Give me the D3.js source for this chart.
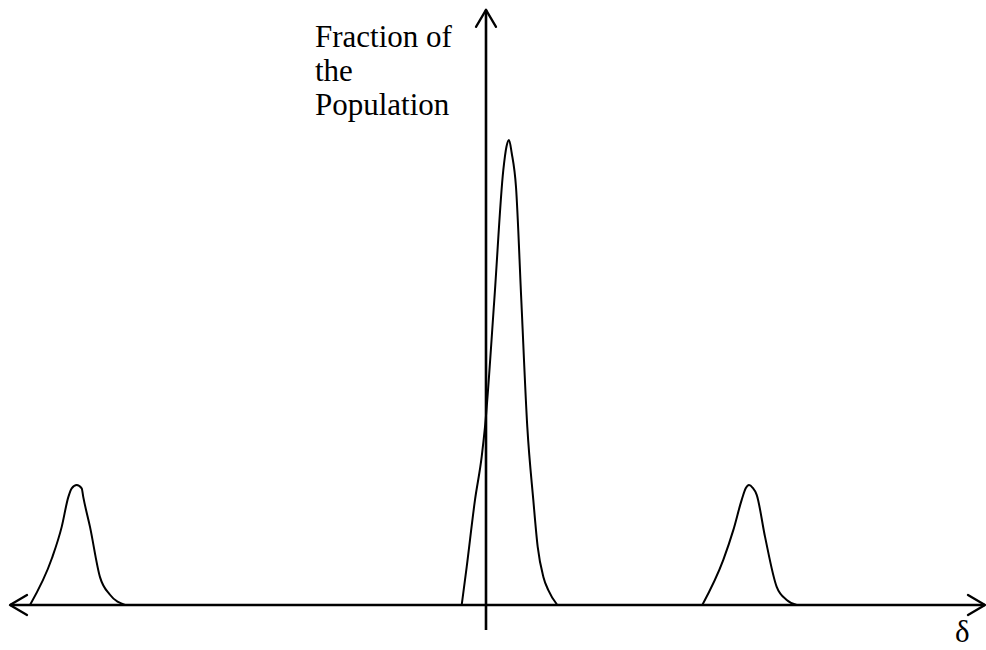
<!DOCTYPE html>
<html>
<head>
<meta charset="utf-8">
<script src="https://cdn.jsdelivr.net/npm/d3@7"></script>
<style>
  body { margin: 0; background: #fff; }
  svg { display: block; }
</style>
</head>
<body>
<script>
// Distribution of delta -- three peaks, central one tallest
// delta values (x) and fraction of population (y, % of tallest peak)
var leftPeakDelta = [-4.56, -4.34, -4.243, -4.177, -4.143, -4.093, -4.043, -4.027, -3.96, -3.86, -3.76, -3.61];
var leftPeakFrac  = [0, 10.1, 16.8, 23.2, 25.1, 25.8, 25.1, 23.2, 16.8, 6.0, 2.2, 0];

var midPeakDelta = [-0.243, -0.193, -0.11, -0.043, -0.01, 0.083, 0.173, 0.205, 0.23, 0.257, 0.3, 0.353, 0.413, 0.473, 0.517, 0.573, 0.623, 0.713];
var midPeakFrac  = [0, 8.2, 22.6, 31.9, 38.3, 65.6, 93.5, 98.6, 100, 97.2, 89.9, 65.6, 38.3, 22.6, 12.5, 6.1, 3.2, 0];

var rightPeakDelta = [2.163, 2.373, 2.473, 2.557, 2.597, 2.63, 2.667, 2.707, 2.79, 2.907, 3.007, 3.107];
var rightPeakFrac  = [0, 9.7, 16.1, 22.6, 25.1, 25.8, 25.2, 23.7, 14.7, 3.9, 1.1, 0];

// axis extents (data units)
var deltaExtent = [-4.76, 4.99];
var fracExtent = [-5.4, 128];

var yLabelLines = ["Fraction of", "the", "Population"];
var xLabel = "\u03b4";

(function(){
  var width = 986,
      height = 650;

  var svg = d3.select("body")
    .append("svg")
    .attr("width", width)
    .attr("height", height);

  var x = d3.scaleLinear()
    .domain([-5, 5])
    .range([-14, 986]);
  var y = d3.scaleLinear()
    .domain([0, 100])
    .range([605, 140]);

  // open arrowhead
  var defs = svg.append("defs");
  defs.append("marker")
    .attr("id", "arrow")
    .attr("markerUnits", "userSpaceOnUse")
    .attr("viewBox", "0 -11 17 22")
    .attr("markerWidth", 17)
    .attr("markerHeight", 22)
    .attr("refX", 17)
    .attr("refY", 0)
    .attr("orient", "auto-start-reverse")
    .style("overflow", "visible")
    .append("path")
    .attr("d", "M0,-10L17,0L0,10")
    .attr("fill", "none")
    .attr("stroke", "#000")
    .attr("stroke-width", 2.3)
    .attr("stroke-linejoin", "round")
    .attr("stroke-linecap", "round");

  // x axis, arrows both ends
  svg.append("line")
    .attr("x1", x(deltaExtent[0]))
    .attr("x2", x(deltaExtent[1]))
    .attr("y1", y(0))
    .attr("y2", y(0))
    .attr("stroke", "#000")
    .attr("stroke-width", 2.6)
    .attr("marker-start", "url(#arrow)")
    .attr("marker-end", "url(#arrow)");

  // y axis, arrow on top only
  svg.append("line")
    .attr("x1", x(0))
    .attr("x2", x(0))
    .attr("y1", y(fracExtent[0]))
    .attr("y2", y(fracExtent[1]))
    .attr("stroke", "#000")
    .attr("stroke-width", 2.6)
    .attr("marker-end", "url(#arrow)");

  var line = d3.line()
    .x(function(d){ return x(d[0]); })
    .y(function(d){ return y(d[1]); })
    .curve(d3.curveMonotoneX);

  var peaks = [
    d3.zip(leftPeakDelta, leftPeakFrac),
    d3.zip(midPeakDelta, midPeakFrac),
    d3.zip(rightPeakDelta, rightPeakFrac)
  ];

  svg.selectAll(".peak")
    .data(peaks)
    .enter()
    .append("path")
    .attr("class", "peak")
    .attr("d", line)
    .attr("fill", "none")
    .attr("stroke", "#000")
    .attr("stroke-width", 2);

  // labels
  var label = svg.append("text")
    .attr("x", 315)
    .attr("y", 46.5)
    .style("font-family", "'Liberation Serif', 'Times New Roman', serif")
    .style("font-size", "31px");
  label.selectAll("tspan")
    .data(yLabelLines)
    .enter()
    .append("tspan")
    .attr("x", 315)
    .attr("dy", function(d, i){ return i == 0 ? 0 : 34; })
    .text(function(d){ return d; });

  svg.append("text")
    .attr("x", 955)
    .attr("y", 642)
    .style("font-family", "'Liberation Serif', 'Times New Roman', serif")
    .style("font-size", "31px")
    .text(xLabel);
})();
</script>
</body>
</html>
